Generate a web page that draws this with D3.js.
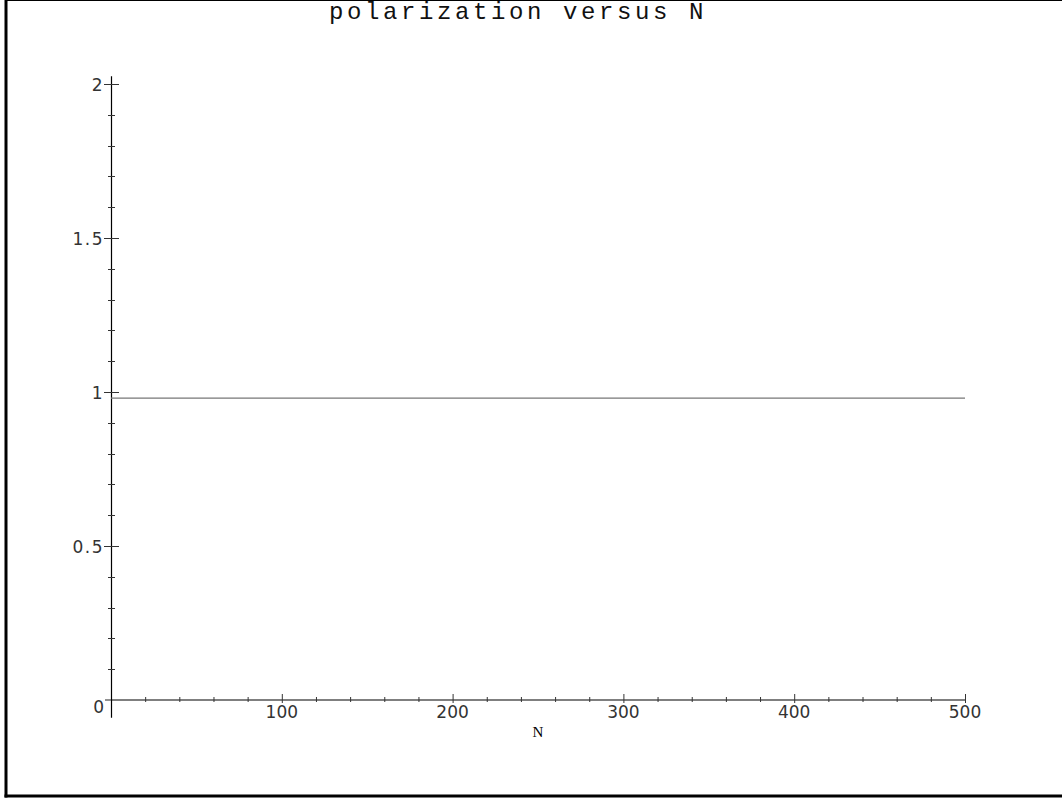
<!DOCTYPE html>
<html>
<head>
<meta charset="utf-8">
<script src="https://cdn.jsdelivr.net/npm/d3@7"></script>
<style>
  html, body { margin: 0; padding: 0; background: #fff; }
  svg { display: block; }
</style>
</head>
<body>
<svg id="chart" width="1062" height="800"></svg>
<script>
// ---- data ----
const titleText = "polarization versus N";
const xLabelText = "N";
const nValues = [0, 100, 200, 300, 400, 500];
const polarization = [0.98, 0.98, 0.98, 0.98, 0.98, 0.98];
const xMajorTicks = [100, 200, 300, 400, 500];
const xMajorLabels = ["100", "200", "300", "400", "500"];
const xMinorTicks = [20, 40, 60, 80, 120, 140, 160, 180, 220, 240, 260, 280, 320, 340, 360, 380, 420, 440, 460, 480];
const yMajorTicks = [0.5, 1, 1.5, 2];
const yMajorLabels = ["0.5", "1", "1.5", "2"];
const yMinorTicks = [0.1, 0.2, 0.3, 0.4, 0.6, 0.7, 0.8, 0.9, 1.1, 1.2, 1.3, 1.4, 1.6, 1.7, 1.8, 1.9];
const xDomain = [0, 500];
const yDomain = [0, 2];
const yAxisExtent = [-0.058, 2.025];

// ---- layout ----
const svg = d3.select("#chart");
const mLeft = 111, mRight = 965, mTop = 84, mBottom = 700;
const x = d3.scaleLinear().domain(xDomain).range([mLeft, mRight]);
const y = d3.scaleLinear().domain(yDomain).range([mBottom, mTop]);

// frame
svg.append("line").attr("x1", 6).attr("x2", 1062).attr("y1", 0.5).attr("y2", 0.5)
  .attr("stroke", "#000").attr("stroke-width", 1);
svg.append("line").attr("x1", 6).attr("x2", 6).attr("y1", 0).attr("y2", 797.5)
  .attr("stroke", "#000").attr("stroke-width", 3);
svg.append("line").attr("x1", 4.5).attr("x2", 1062).attr("y1", 796).attr("y2", 796)
  .attr("stroke", "#000").attr("stroke-width", 3);

// title
svg.append("text").attr("x", 518).attr("y", 19)
  .attr("text-anchor", "middle")
  .attr("font-family", "Liberation Mono, monospace")
  .attr("font-size", 24)
  .attr("letter-spacing", 3.6)
  .attr("fill", "#111")
  .text(titleText);

const axisColor = "#333";
const fontTick = "DejaVu Sans, sans-serif";

// x axis
const gx = svg.append("g");
gx.append("line")
  .attr("x1", x(xDomain[0])).attr("x2", x(xDomain[1]))
  .attr("y1", y(0)).attr("y2", y(0))
  .attr("stroke", "#555").attr("stroke-width", 1.3);
gx.selectAll(".xmin").data(xMinorTicks).join("line")
  .attr("x1", d => x(d) + 0.5).attr("x2", d => x(d) + 0.5)
  .attr("y1", y(0) - 3).attr("y2", y(0) + 2)
  .attr("stroke", axisColor).attr("stroke-width", 1);
gx.selectAll(".xmaj").data(xMajorTicks).join("line")
  .attr("x1", d => x(d) + 0.5).attr("x2", d => x(d) + 0.5)
  .attr("y1", y(0) - 6).attr("y2", y(0) + 3)
  .attr("stroke", axisColor).attr("stroke-width", 1);
gx.selectAll(".xlab").data(xMajorTicks).join("text")
  .attr("x", d => x(d)).attr("y", y(0) + 17.5)
  .attr("text-anchor", "middle")
  .attr("font-family", fontTick).attr("font-size", 17)
  .attr("fill", "#333")
  .text((d, i) => xMajorLabels[i]);

// y axis
const gy = svg.append("g");
gy.append("line")
  .attr("x1", x(0) + 0.5).attr("x2", x(0) + 0.5)
  .attr("y1", y(yAxisExtent[1])).attr("y2", y(yAxisExtent[0]))
  .attr("stroke", "#000").attr("stroke-width", 1.2);
gy.selectAll(".ymin").data(yMinorTicks).join("line")
  .attr("x1", x(0) - 3).attr("x2", x(0) + 4)
  .attr("y1", d => Math.round(y(d)) + 0.5).attr("y2", d => Math.round(y(d)) + 0.5)
  .attr("stroke", axisColor).attr("stroke-width", 1);
gy.selectAll(".ymaj").data(yMajorTicks).join("line")
  .attr("x1", x(0) - 7).attr("x2", x(0) + 8)
  .attr("y1", d => Math.round(y(d)) + 0.5).attr("y2", d => Math.round(y(d)) + 0.5)
  .attr("stroke", axisColor).attr("stroke-width", 1);
// tick at zero (left side only)
gy.append("line")
  .attr("x1", x(0) - 6).attr("x2", x(0))
  .attr("y1", y(0)).attr("y2", y(0))
  .attr("stroke", "#555").attr("stroke-width", 1.3);
gy.selectAll(".ylab").data(yMajorTicks).join("text")
  .attr("x", x(0) - 7).attr("y", d => y(d) + 6.5)
  .attr("text-anchor", "end")
  .attr("font-family", fontTick).attr("font-size", 17)
  .attr("letter-spacing", 1.5)
  .attr("fill", "#333")
  .text((d, i) => yMajorLabels[i]);
svg.append("text")
  .attr("x", x(0) - 7).attr("y", y(0) + 12.5)
  .attr("text-anchor", "end")
  .attr("font-family", fontTick).attr("font-size", 17)
  .attr("fill", "#333")
  .text("0");

// x label
svg.append("text")
  .attr("x", (x(xDomain[0]) + x(xDomain[1])) / 2).attr("y", 737)
  .attr("text-anchor", "middle")
  .attr("font-family", "Liberation Serif, serif").attr("font-size", 15)
  .attr("fill", "#000")
  .text(xLabelText);

// data line
const line = d3.line().x(d => x(d[0])).y(d => y(d[1]));
svg.append("path")
  .datum(nValues.map((n, i) => [n, polarization[i]]))
  .attr("d", line)
  .attr("fill", "none")
  .attr("stroke", "#777")
  .attr("stroke-width", 1.4);
</script>
</body>
</html>
